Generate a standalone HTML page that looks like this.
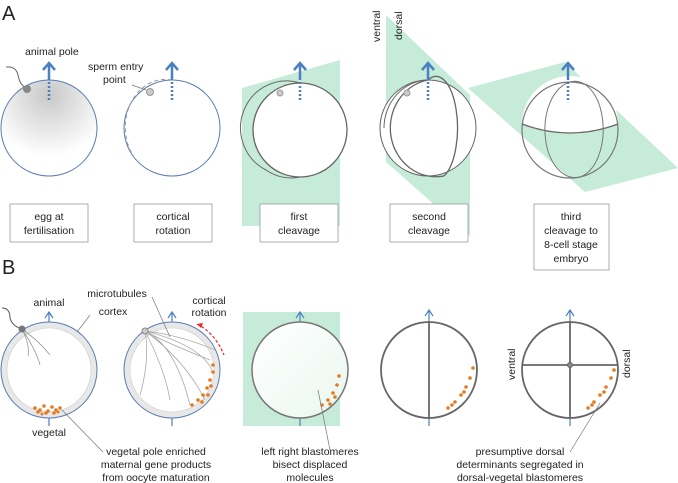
<!DOCTYPE html>
<html><head><style>body{margin:0;background:#fff}svg{display:block}text{font-family:"Liberation Sans",sans-serif;fill:#222}</style></head><body>
<svg width="678" height="483" viewBox="0 0 678 483" xmlns="http://www.w3.org/2000/svg">
<defs>
<radialGradient id="g1" cx="0.5" cy="0.15" r="0.65"><stop offset="0" stop-color="#c8c8c8"/><stop offset="1" stop-color="#fff"/></radialGradient>
<linearGradient id="g2" x1="0" y1="0" x2="1" y2="1"><stop offset="0" stop-color="#fff"/><stop offset="1" stop-color="#eaf7f0"/></linearGradient>
</defs>
<text x="2" y="20" font-size="20">A</text>
<text x="2" y="274" font-size="20">B</text>
<polygon points="242,88 340,60 340,226 242,226" fill="#c6ecd9"/>
<polygon points="386,15 470,95 470,236 386,162" fill="#c6ecd9"/>
<polygon points="468,88 565,62 678,168 585,192" fill="#c6ecd9"/>
<circle cx="49" cy="128" r="48" fill="url(#g1)" stroke="#5a7bb5" stroke-width="1"/>
<path d="M6,67 Q16,66 18,75 Q20,86 27,88" fill="none" stroke="#666"/>
<circle cx="27" cy="89" r="4" fill="#888"/>
<text x="25" y="55" font-size="10.5">animal pole</text>
<circle cx="172" cy="128" r="48" fill="#fff" stroke="#5a7bb5"/>
<path d="M172,80 A40,48 0 0 0 136,160" fill="none" stroke="#999" stroke-dasharray="4,3"/>
<circle cx="150" cy="92" r="3.5" fill="#ccc" stroke="#999"/>
<text x="88" y="70" font-size="10.5">sperm entry</text>
<text x="103" y="83" font-size="10.5">point</text>
<line x1="132" y1="85" x2="146" y2="90" stroke="#777" stroke-width="0.7"/>
<circle cx="300" cy="130" r="47" fill="#fff" stroke="#666" stroke-width="1.3"/>
<path d="M300,83 A46,47 0 0 0 266,170 A45,47 0 0 0 300,177" fill="none" stroke="#666"/>
<circle cx="280" cy="93" r="3" fill="#ccc" stroke="#999"/>
<circle cx="428" cy="128" r="48" fill="#fff" stroke="#666" stroke-width="1"/>
<path d="M428,80 A45,48 0 0 0 444,176" fill="none" stroke="#666" stroke-width="1.3"/>
<path d="M428,80 A20,48 0 0 1 444,176" fill="none" stroke="#666" stroke-width="1.3"/>
<path d="M428,80 A45,48 0 0 0 384,128" fill="none" stroke="#666"/>
<circle cx="407" cy="93" r="3" fill="#ccc" stroke="#999"/>
<path d="M522,124 A48,48 0 0 1 618,124 Q570,142 522,124 Z" fill="#fff"/>
<circle cx="570" cy="130" r="48" fill="none" stroke="#777" stroke-width="1.2"/>
<path d="M522,124 Q570,142 618,124" fill="none" stroke="#666" stroke-width="1.3"/>
<path d="M570,82 A30,48 0 0 0 580,177" fill="none" stroke="#777"/>
<path d="M570,82 A28,48 0 0 1 580,177" fill="none" stroke="#777"/>
<g stroke="#4a7fc1" stroke-width="2.5" fill="none">
<path d="M49,80 V64 M43,70 L49,63 L55,70"/><path d="M172,80 V64 M166,70 L172,63 L178,70"/><path d="M300,80 V64 M294,70 L300,63 L306,70"/><path d="M428,80 V64 M422,70 L428,63 L434,70"/><path d="M568,80 V64 M562,70 L568,63 L574,70"/>
</g>
<g stroke="#4a7fc1" stroke-width="2.5" stroke-dasharray="2,2"><line x1="49" y1="82" x2="49" y2="100"/><line x1="172" y1="82" x2="172" y2="100"/><line x1="300" y1="82" x2="300" y2="100"/><line x1="428" y1="82" x2="428" y2="100"/><line x1="568" y1="82" x2="568" y2="100"/></g>
<text transform="translate(380,42) rotate(-90)" font-size="10.5">ventral</text>
<text transform="translate(402,40) rotate(-90)" font-size="10.5">dorsal</text>
<g fill="#fff" stroke="#999" stroke-width="0.8">
<rect x="10" y="204" width="78" height="38"/><rect x="134" y="204" width="78" height="38"/><rect x="260" y="204" width="78" height="38"/><rect x="390" y="204" width="78" height="38"/><rect x="534" y="204" width="75" height="66"/>
</g>
<g font-size="10.5" text-anchor="middle">
<text x="49" y="220">egg at</text><text x="49" y="234">fertilisation</text>
<text x="173" y="220">cortical</text><text x="173" y="234">rotation</text>
<text x="299" y="220">first</text><text x="299" y="234">cleavage</text>
<text x="429" y="220">second</text><text x="429" y="234">cleavage</text>
<text x="571" y="220">third</text><text x="571" y="234">cleavage to</text><text x="571" y="248">8-cell stage</text><text x="571" y="262">embryo</text>
</g>
<rect x="243" y="312" width="97" height="114" fill="#c6ecd9"/>
<g fill="none" stroke="#4a7fc1" stroke-width="1.2">
<path d="M49,322 V313 M45,318 L49,312 L53,318"/><line x1="49" y1="418" x2="49" y2="426"/>
<path d="M172,322 V313 M168,318 L172,312 L176,318"/><line x1="172" y1="418" x2="172" y2="426"/>
<path d="M300,322 V313 M296,318 L300,312 L304,318"/><line x1="300" y1="418" x2="300" y2="426"/>
<path d="M429,322 V310 M425,316 L429,310 L433,316"/><line x1="429" y1="415" x2="429" y2="426"/>
<path d="M570,322 V310 M566,316 L570,310 L574,316"/><line x1="570" y1="415" x2="570" y2="426"/>
</g>
<circle cx="49" cy="370" r="45" fill="#fff" stroke="#e8e8e8" stroke-width="6"/>
<circle cx="49" cy="370" r="48" fill="none" stroke="#5a7bb5"/>
<circle cx="49" cy="370" r="42" fill="none" stroke="#ccc" stroke-width="0.6"/>
<circle cx="172" cy="370" r="45" fill="#fff" stroke="#e8e8e8" stroke-width="6"/>
<circle cx="172" cy="370" r="48" fill="none" stroke="#5a7bb5"/>
<circle cx="172" cy="370" r="42" fill="none" stroke="#ccc" stroke-width="0.6"/>
<circle cx="300" cy="370" r="48" fill="url(#g2)" stroke="#777" stroke-width="1.5"/>
<path d="M22,329 Q30,345 28,356 M22,329 Q38,340 50,355 M22,329 Q36,350 40,365" fill="none" stroke="#999" stroke-width="0.8"/>
<path d="M2,308 Q10,308 10,318 Q12,326 22,329" fill="none" stroke="#555"/>
<circle cx="22" cy="329" r="3.5" fill="#777"/>
<g fill="none" stroke="#aaa" stroke-width="0.8">
<path d="M145,331 Q160,340 210,360 M145,331 Q180,335 215,350 M145,331 Q150,360 140,395 M145,331 Q165,370 170,400 M145,331 Q185,360 205,400 M145,331 Q200,345 212,370 M145,331 Q175,345 190,405"/>
</g>
<circle cx="145" cy="331" r="3" fill="#ccc" stroke="#888"/>
<path d="M197,324 Q215,333 224,355" fill="none" stroke="#e22" stroke-width="1.2" stroke-dasharray="3,2"/>
<path d="M197,324 l6,-1 l-2,5 z" fill="#e22"/>
<circle cx="429" cy="370" r="48" fill="none" stroke="#666" stroke-width="1.8"/>
<line x1="429" y1="322" x2="429" y2="418" stroke="#666" stroke-width="1.8"/>
<circle cx="570" cy="370" r="48" fill="none" stroke="#666" stroke-width="1.8"/>
<line x1="570" y1="322" x2="570" y2="418" stroke="#666" stroke-width="1.8"/>
<line x1="522" y1="365" x2="618" y2="365" stroke="#666" stroke-width="1.8"/>
<circle cx="570" cy="365" r="2.5" fill="#888" stroke="#666"/>
<g fill="#e57b20">
<circle cx="35" cy="408" r="1.8"/><circle cx="40" cy="410" r="1.8"/><circle cx="44" cy="406" r="1.8"/><circle cx="48" cy="411" r="1.8"/><circle cx="52" cy="407" r="1.8"/><circle cx="56" cy="410" r="1.8"/><circle cx="60" cy="408" r="1.8"/><circle cx="46" cy="413" r="1.8"/><circle cx="54" cy="413" r="1.8"/><circle cx="38" cy="412" r="1.8"/><circle cx="42" cy="414" r="1.5"/><circle cx="58" cy="412" r="1.5"/>
<circle cx="192" cy="405" r="1.8"/><circle cx="198" cy="400" r="1.8"/><circle cx="203" cy="395" r="1.8"/><circle cx="207" cy="388" r="1.8"/><circle cx="210" cy="380" r="1.8"/><circle cx="213" cy="372" r="1.8"/><circle cx="213" cy="365" r="1.8"/><circle cx="202" cy="402" r="1.8"/><circle cx="208" cy="395" r="1.8"/><circle cx="211" cy="386" r="1.8"/>
<circle cx="322" cy="405" r="1.8"/><circle cx="328" cy="400" r="1.8"/><circle cx="333" cy="393" r="1.8"/><circle cx="337" cy="385" r="1.8"/><circle cx="339" cy="376" r="1.8"/><circle cx="330" cy="404" r="1.8"/><circle cx="335" cy="397" r="1.8"/>
<circle cx="448" cy="408" r="1.8"/><circle cx="455" cy="402" r="1.8"/><circle cx="461" cy="395" r="1.8"/><circle cx="466" cy="387" r="1.8"/><circle cx="470" cy="378" r="1.8"/><circle cx="473" cy="368" r="1.8"/><circle cx="452" cy="405" r="1.8"/><circle cx="464" cy="392" r="1.8"/>
<circle cx="588" cy="408" r="1.8"/><circle cx="594" cy="402" r="1.8"/><circle cx="600" cy="395" r="1.8"/><circle cx="606" cy="387" r="1.8"/><circle cx="611" cy="378" r="1.8"/><circle cx="614" cy="370" r="1.8"/><circle cx="592" cy="405" r="1.8"/><circle cx="604" cy="392" r="1.8"/>
</g>
<g stroke="#777" stroke-width="0.7">
<line x1="62" y1="410" x2="103" y2="452"/><line x1="90" y1="315" x2="77" y2="332"/><line x1="152" y1="297" x2="170" y2="337"/><line x1="318" y1="390" x2="330" y2="450"/><line x1="600" y1="403" x2="570" y2="452"/>
</g>
<g font-size="10.5" text-anchor="middle">
<text x="49" y="306">animal</text><text x="113" y="315">cortex</text><text x="117" y="297">microtubules</text>
<text x="209" y="304">cortical</text><text x="209" y="316">rotation</text><text x="49" y="436">vegetal</text>
<text x="156" y="455">vegetal pole enriched</text><text x="156" y="468">maternal gene products</text><text x="156" y="481">from oocyte maturation</text>
<text x="310" y="455">left right blastomeres</text><text x="310" y="468">bisect displaced</text><text x="310" y="481">molecules</text>
<text x="520" y="455">presumptive dorsal</text><text x="520" y="468">determinants segregated in</text><text x="520" y="481">dorsal-vegetal blastomeres</text>
</g>
<text transform="translate(515,380) rotate(-90)" font-size="10.5">ventral</text>
<text transform="translate(630,378) rotate(-90)" font-size="10.5">dorsal</text>
</svg>
</body></html>
